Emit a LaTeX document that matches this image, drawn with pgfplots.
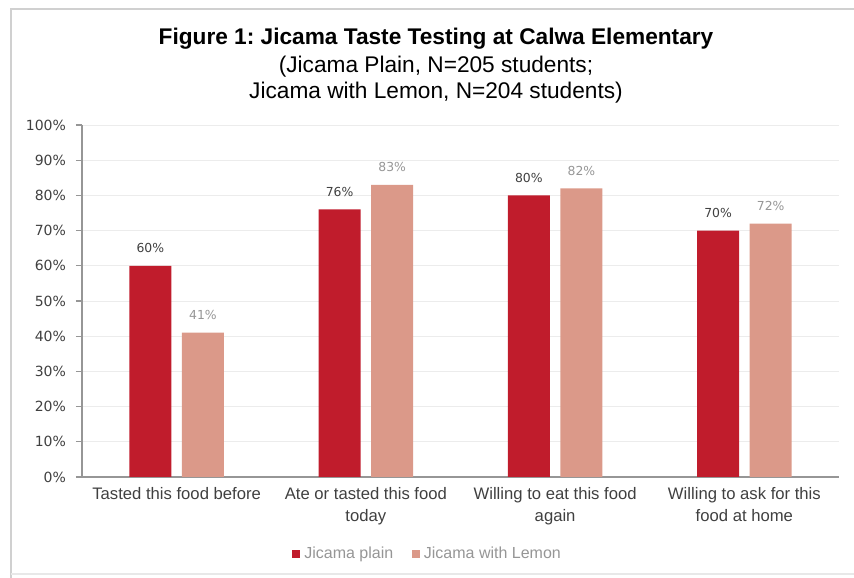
\documentclass[border=0pt]{standalone}
\usepackage{fontspec}
\setmainfont{Liberation Sans}
\newfontfamily\dejavu{DejaVu Sans}
\usepackage{pgfplots}
\pgfplotsset{compat=1.18}
\definecolor{plainred}{RGB}{192,28,44}
\definecolor{lemonpink}{RGB}{219,153,137}
\definecolor{framegray}{RGB}{208,208,208}
\definecolor{textgray}{RGB}{64,64,64}
\definecolor{labelgray}{RGB}{150,150,150}
\definecolor{axisgray}{RGB}{150,150,150}
\definecolor{gridgray}{RGB}{236,236,236}
\frenchspacing

\begin{document}
\begin{tikzpicture}[x=0.75pt,y=0.75pt]
% page in px units (y measured from the bottom)
\useasboundingbox (0,0) rectangle (854,578);
\draw[framegray, line width=2pt] (11,-10) -- (11,569) -- (870,569);
\draw[framegray!50, line width=1pt] (11,4) -- (870,4);
\node[font=\bfseries\fontsize{17}{20}\selectfont] at (436,539)
  {Figure 1: Jicama Taste Testing at Calwa Elementary};
\node[font=\fontsize{17}{19.5}\selectfont, align=center] at (436,498)
  {(Jicama Plain, N=205 students;\\Jicama with Lemon, N=204 students)};

\begin{axis}[
  at={(61.5pt,75.75pt)}, anchor=south west,
  scale only axis, width=567.75pt, height=264pt,
  ybar, bar width=0.222,
  xmin=-0.5, xmax=3.5, ymin=0, ymax=100,
  axis x line*=bottom, axis y line*=left,
  axis line style={axisgray, line width=0.8pt},
  xtick={0,1,2,3},
  xticklabels={Tasted this food before, Ate or tasted this food\\today,
    Willing to eat this food\\again, Willing to ask for this\\food at home},
  xticklabel style={align=center, font=\fontsize{12.5}{16.5}\selectfont, text=textgray},
  xtick style={draw=none},
  minor xtick={-0.5,0.5,1.5,2.5,3.5},
  minor x tick style={axisgray, line width=0.8pt},
  minor tick length=4pt,
  ytick={0,10,...,100},
  yticklabels={0\%,10\%,20\%,30\%,40\%,50\%,60\%,70\%,80\%,90\%,100\%},
  yticklabel style={font=\dejavu\fontsize{10.5}{12}\selectfont, text=textgray, xshift=-4pt},
  y tick style={axisgray, line width=0.8pt},
  major tick length=4.5pt,
  tick align=outside,
  ymajorgrids, major grid style={gridgray, line width=0.6pt},
  /pgf/number format/assume math mode=true,
  nodes near coords={\pgfmathprintnumber{\pgfplotspointmeta}\%},
  nodes near coords style={font=\dejavu\fontsize{9.3}{11}\selectfont, yshift=6pt},
  legend style={at={(0.457,-0.218)}, anchor=center, draw=none,
    font=\fontsize{12}{14}\selectfont, text=labelgray,
    legend columns=2, /tikz/every even column/.style={column sep=12pt},
    /tikz/every odd column/.style={column sep=1pt}},
  legend image code/.code={\fill[#1] (0pt,-3pt) rectangle (6pt,3pt);},
]
\addplot[fill=plainred, draw=none, bar shift=-0.139,
  every node near coord/.append style={text=textgray}]
  coordinates {(0,60) (1,76) (2,80) (3,70)};
\addplot[fill=lemonpink, draw=none, bar shift=0.139,
  every node near coord/.append style={text=labelgray}]
  coordinates {(0,41) (1,83) (2,82) (3,72)};
\legend{Jicama plain, Jicama with Lemon}
\end{axis}
\end{tikzpicture}
\end{document}
